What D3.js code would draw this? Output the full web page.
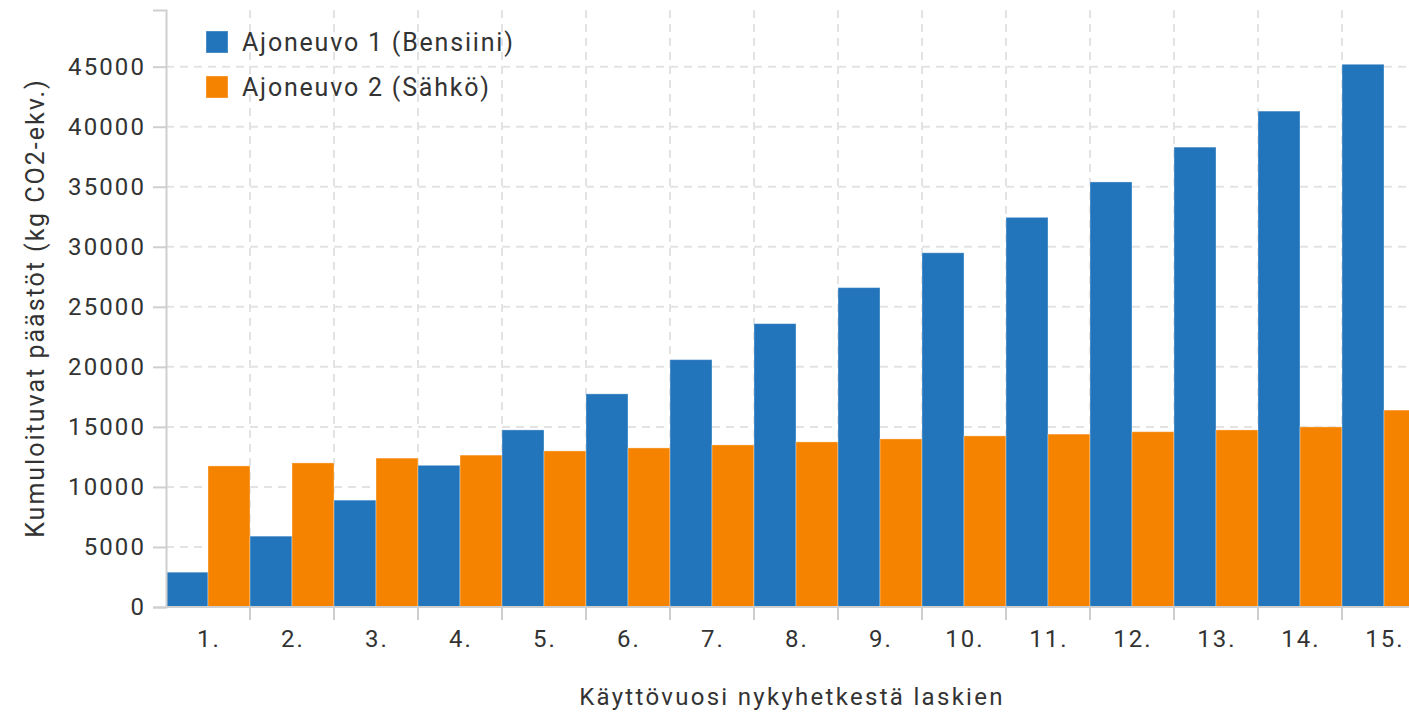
<!DOCTYPE html>
<html>
<head>
<meta charset="utf-8">
<script src="https://cdn.jsdelivr.net/npm/d3@7"></script>
<style>
  body { margin: 0; background: #fff; overflow: hidden; }
  svg text { font-family: Roboto, "Noto Sans", sans-serif; fill: #333; }
</style>
</head>
<body>
<div id="chart"></div>
<script>
const years = ["1.", "2.", "3.", "4.", "5.", "6.", "7.", "8.", "9.", "10.", "11.", "12.", "13.", "14.", "15."];
const seriesNames = ["Ajoneuvo 1 (Bensiini)", "Ajoneuvo 2 (Sähkö)"];
const petrol = [2900, 5900, 8900, 11800, 14750, 17750, 20600, 23600, 26600, 29500, 32450, 35400, 38300, 41300, 45200];
const electric = [11750, 12000, 12400, 12650, 13000, 13250, 13500, 13750, 14000, 14250, 14400, 14600, 14750, 15000, 16400];
const colors = ["#2274bb", "#f58300"];

const width = 1409;
const height = 716;
const margin = { top: 10, left: 166, bottom: 109 };
const innerW = 1260;   // plot runs past the right edge, as in the original
const innerH = height - margin.top - margin.bottom;

const rows = years.map((y, i) => ({ year: y, values: [petrol[i], electric[i]] }));

const svg = d3.select("#chart")
    .append("svg")
    .attr("width", width)
    .attr("height", height);

const g = svg.append("g")
    .attr("transform", `translate(${margin.left},${margin.top})`);

const x = d3.scaleBand()
    .domain(years)
    .range([0, innerW])
    .padding(0);

const xInner = d3.scaleBand()
    .domain([0, 1])
    .range([0, x.bandwidth()]);

const yMax = d3.max(petrol.concat(electric)) * 1.1;
const y = d3.scaleLinear()
    .domain([0, yMax])
    .range([innerH, 0]);

const yTicks = d3.range(0, 45001, 5000);

// grid
g.append("g")
    .selectAll("line")
    .data(yTicks.slice(1))
    .join("line")
    .attr("x1", 0)
    .attr("x2", innerW)
    .attr("y1", d => y(d))
    .attr("y2", d => y(d))
    .attr("stroke", "#e3e3e3")
    .attr("stroke-width", 2)
    .attr("stroke-dasharray", "8,6");

g.append("g")
    .selectAll("line")
    .data(years.slice(1))
    .join("line")
    .attr("x1", d => x(d))
    .attr("x2", d => x(d))
    .attr("y1", 0)
    .attr("y2", innerH)
    .attr("stroke", "#e3e3e3")
    .attr("stroke-width", 2)
    .attr("stroke-dasharray", "8,6");

// bars
g.append("g")
    .selectAll("g")
    .data(rows)
    .join("g")
    .attr("transform", d => `translate(${x(d.year)},0)`)
    .selectAll("rect")
    .data(d => d.values.map((v, k) => ({ k, v })))
    .join("rect")
    .attr("x", d => xInner(d.k))
    .attr("width", xInner.bandwidth())
    .attr("y", d => y(d.v))
    .attr("height", d => innerH - y(d.v))
    .attr("fill", d => colors[d.k])
    .attr("stroke", "rgba(255,255,255,0.35)")
    .attr("stroke-width", 1);

// y axis
const yAxis = g.append("g")
    .call(d3.axisLeft(y).tickValues(yTicks).tickSize(13).tickSizeOuter(13).tickPadding(7).tickFormat(d3.format("d")));
yAxis.selectAll("path, line").attr("stroke", "#cfcfcf").attr("stroke-width", 2);
yAxis.selectAll("text")
    .style("font-size", "24px")
    .style("letter-spacing", "2.1px")
    .attr("fill", "#333");

// x axis: ticks at band boundaries, labels in band centres
const xAxis = g.append("g")
    .attr("transform", `translate(0,${innerH})`);
xAxis.append("line")
    .attr("x1", 0).attr("x2", innerW)
    .attr("stroke", "#cfcfcf").attr("stroke-width", 2);
xAxis.selectAll(".tk")
    .data(years.slice(1))
    .join("line")
    .attr("class", "tk")
    .attr("x1", d => x(d)).attr("x2", d => x(d))
    .attr("y1", 0).attr("y2", 13)
    .attr("stroke", "#cfcfcf").attr("stroke-width", 2);
xAxis.selectAll(".lbl")
    .data(years)
    .join("text")
    .attr("class", "lbl")
    .attr("x", d => x(d) + x.bandwidth() / 2 + 1)
    .attr("y", 40)
    .attr("text-anchor", "middle")
    .style("font-size", "24px")
    .style("letter-spacing", "2px")
    .text(d => d);

// axis titles
svg.append("text")
    .attr("x", 792)
    .attr("y", 705)
    .attr("text-anchor", "middle")
    .style("font-size", "24px")
    .style("letter-spacing", "2.3px")
    .text("Käyttövuosi nykyhetkestä laskien");

svg.append("text")
    .attr("transform", "translate(44,308) rotate(-90)")
    .attr("text-anchor", "middle")
    .style("font-size", "25px")
    .style("letter-spacing", "2px")
    .text("Kumuloituvat päästöt (kg CO2-ekv.)");

// legend
const legend = svg.append("g")
    .attr("transform", "translate(206,31)");
const item = legend.selectAll("g")
    .data(seriesNames)
    .join("g")
    .attr("transform", (d, i) => `translate(0,${i * 45})`);
item.append("rect")
    .attr("width", 22)
    .attr("height", 22)
    .attr("fill", (d, i) => colors[i])
    .attr("stroke", "rgba(255,255,255,0.35)");
item.append("text")
    .attr("x", 36)
    .attr("y", 20)
    .style("font-size", "25px")
    .style("letter-spacing", "1.8px")
    .text(d => d);
</script>
</body>
</html>
